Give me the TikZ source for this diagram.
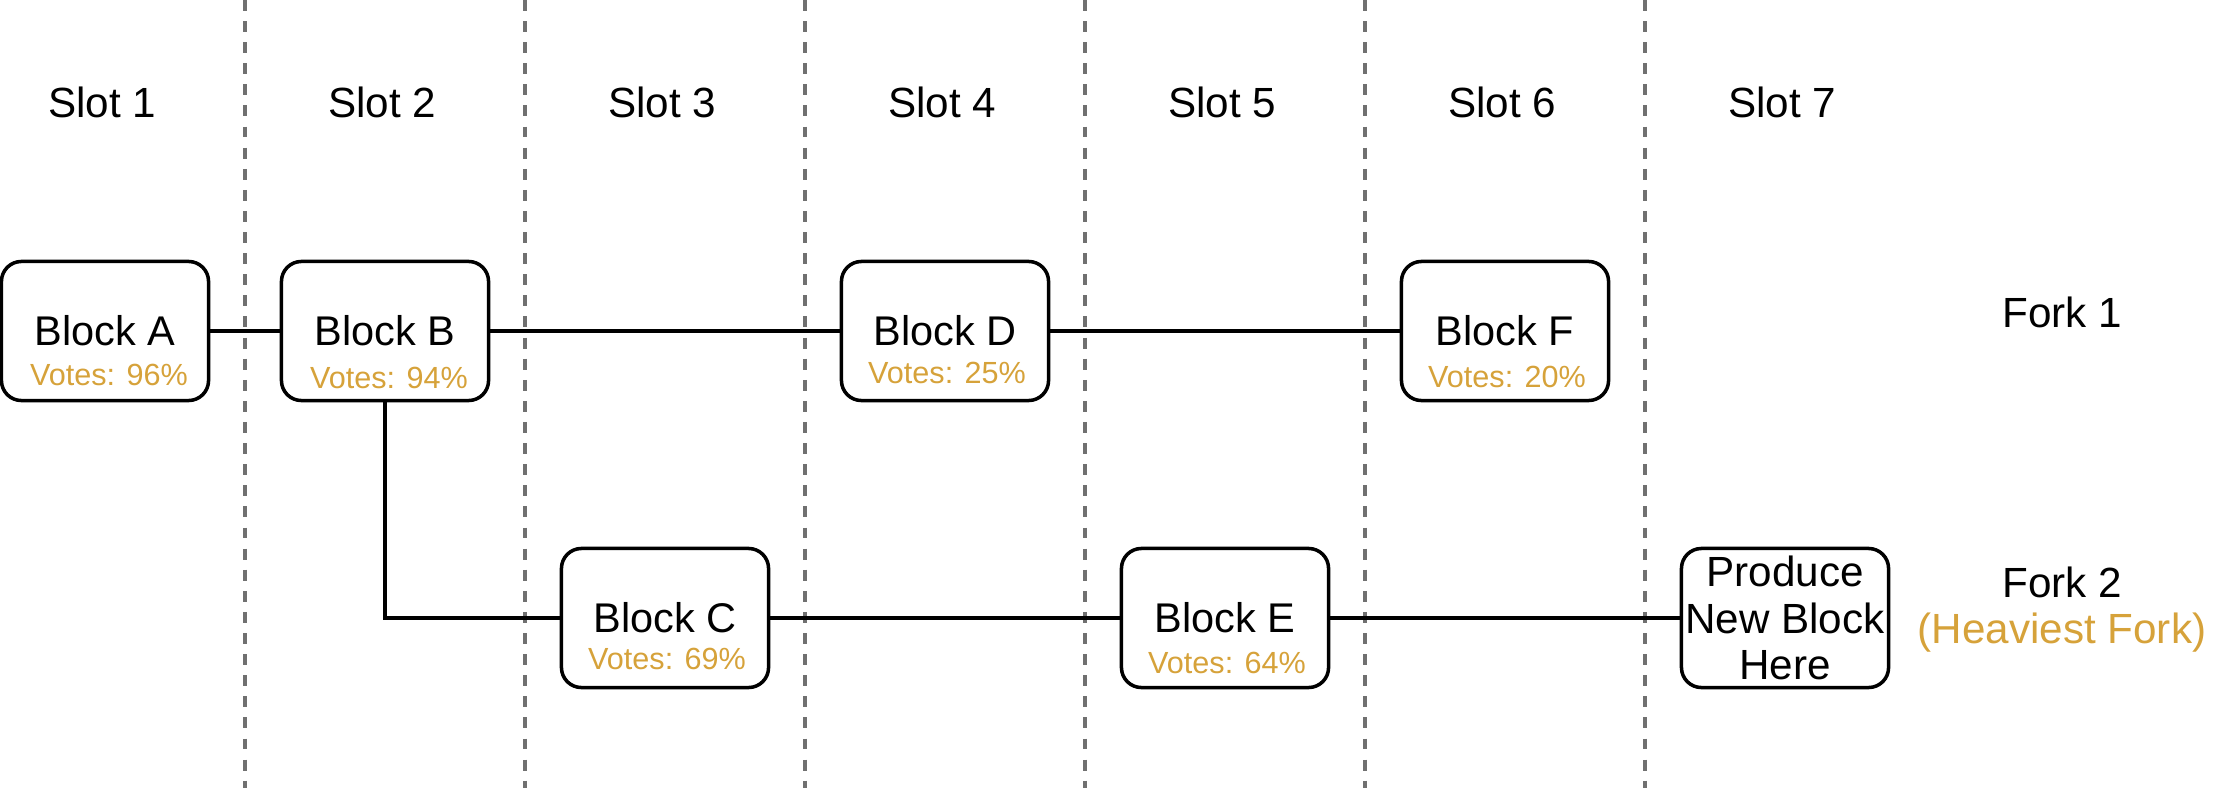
\documentclass[tikz,border=0pt]{standalone}
\usepackage{fontspec}
\setmainfont{Liberation Sans}
\usepackage{tikz}
\definecolor{votegold}{RGB}{214, 162, 58}
\definecolor{slotgrey}{RGB}{112, 112, 112}

\begin{document}
\begin{tikzpicture}[x=0.01cm, y=-0.01cm,
		block/.style={draw, rounded corners=0.2cm, line width=1pt, minimum width=2.07cm, minimum height=1.39cm, inner sep=0pt, font=\fontsize{11.8}{13}\selectfont},
		votes/.style={text=votegold, inner sep=0pt, font=\fontsize{8.7}{10}\selectfont},
		slotlabel/.style={inner sep=0pt, font=\fontsize{12}{14}\selectfont},
		link/.style={line width=0.95pt}]
	\useasboundingbox (0,0) rectangle (2216,788);
	% slot borders and names
	\foreach \i in {1,...,6} {
		\coordinate (top\i) at ({245+280*(\i-1)},0);
		\coordinate (bot\i) at ({245+280*(\i-1)},788);
		\draw[slotgrey, line width=1.1pt, dash pattern=on 3.1pt off 2.9pt] (top\i) -- (bot\i);
	}
	\foreach \i in {1,...,7}
		\node[slotlabel] (slot\i) at ({102+280*(\i-1)},102) {Slot \i};

	% blocks
	\node[block] (a) at (105,331) {Block A};
	\node[votes] (a-v) at (109,375) {Votes: 96\%};
	\node[block] (b) at (385,331) {Block B};
	\node[votes] (b-v) at (389,378) {Votes: 94\%};
	\node[block] (d) at (945,331) {Block D};
	\node[votes] (d-v) at (947,373) {Votes: 25\%};
	\node[block] (f) at (1505,331) {Block F};
	\node[votes] (f-v) at (1507,377) {Votes: 20\%};
	\node[block] (c) at (665,618) {Block C};
	\node[votes] (c-v) at (667,659) {Votes: 69\%};
	\node[block] (e) at (1225,618) {Block E};
	\node[votes] (e-v) at (1227,663) {Votes: 64\%};
	\node[block, align=center, font=\fontsize{12}{13.2}\selectfont] (p) at (1785,618) {Produce\\New Block\\Here};

	\node[slotlabel] (fork1) at (2062,312) {Fork 1};
	\node[slotlabel] (fork2) at (2062,582) {Fork 2};
	\node[slotlabel, text=votegold] (heavy) at (2062,633) {(Heaviest Fork)};

	\draw[link] (a) -- (b);
	\draw[link] (b) -- (d);
	\draw[link] (d) -- (f);
	\draw[link] (b.south) |- (c.west);
	\draw[link] (c) -- (e);
	\draw[link] (e) -- (p);
\end{tikzpicture}
\end{document}
